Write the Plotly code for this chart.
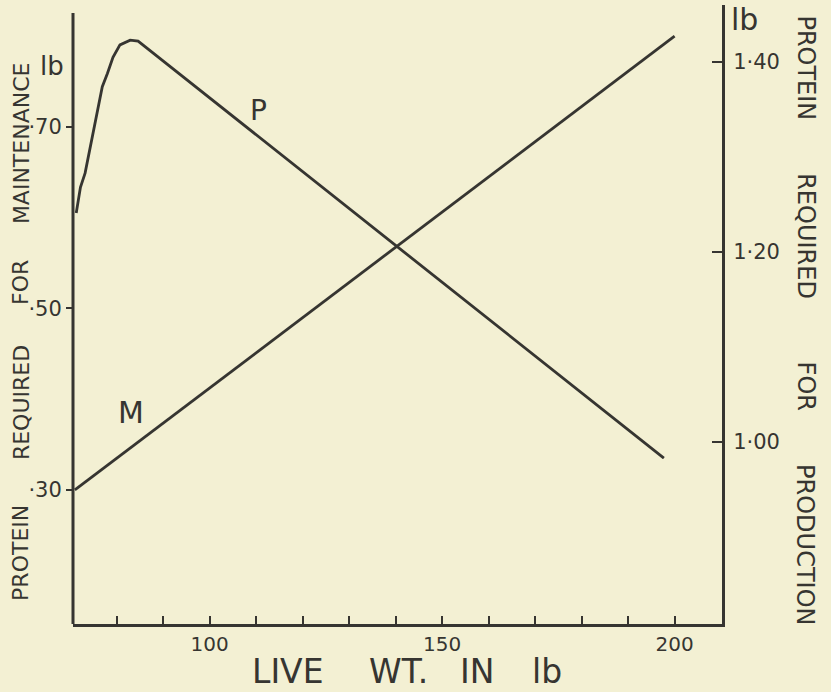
import plotly.graph_objects as go

# Live weight (lb) and protein requirement series
m_weight = [71, 200]
m_protein = [0.30, 0.80]          # maintenance, left axis (lb)

p_weight = [71.3, 72.2, 73.2, 74.3, 75.4, 76.9, 78.0, 79.2, 80.7, 82.9, 84.6, 197.7]
p_protein = [1.241, 1.268, 1.283, 1.311, 1.336, 1.374, 1.388, 1.405, 1.418, 1.423, 1.422, 0.983]  # production, right axis (lb)

x_tickvals = [80, 90, 100, 110, 120, 130, 140, 150, 160, 170, 180, 190, 200]
x_ticktext = ["", "", "100", "", "", "", "", "150", "", "", "", "", "200"]
left_tickvals = [0.30, 0.50, 0.70]
left_ticktext = ["·30", "·50", "·70"]
right_tickvals = [1.00, 1.20, 1.40]
right_ticktext = ["1·00", "1·20", "1·40"]

INK = "#363531"
PAPER = "#f3f0d3"
FONT = "DejaVu Sans"

fig = go.Figure()
fig.add_trace(go.Scatter(x=m_weight, y=m_protein, mode="lines",
                         line=dict(color=INK, width=2.8), yaxis="y", hoverinfo="skip"))
fig.add_trace(go.Scatter(x=p_weight, y=p_protein, mode="lines",
                         line=dict(color=INK, width=2.8), yaxis="y2", hoverinfo="skip"))

ann = []
def label(text, x, y, size, angle=0, xref="paper", yref="paper"):
    ann.append(dict(text=text, x=x, y=y, xref=xref, yref=yref, showarrow=False,
                    textangle=angle, xanchor="center", yanchor="middle",
                    font=dict(family=FONT, size=size, color=INK)))

# curve labels
label("P", 110.6, 1.349, 28, xref="x", yref="y2")
label("M", 83.1, 0.385, 30, xref="x", yref="y")

# unit marks above the axes
label("lb", -0.032, 0.901, 26)
label("lb", 1.034, 0.977, 30)

# left axis title, word by word
for w, yy in [("PROTEIN", 0.115), ("REQUIRED", 0.357), ("FOR", 0.551), ("MAINTENANCE", 0.777)]:
    label(w, -0.080, yy, 22, angle=-90)
# right axis title
for w, yy in [("PROTEIN", 0.898), ("REQUIRED", 0.627), ("FOR", 0.384), ("PRODUCTION", 0.128)]:
    label(w, 1.129, yy, 24, angle=90)
# bottom axis title
for w, xx in [("LIVE", 0.331), ("WT.", 0.501), ("IN", 0.622), ("lb", 0.730)]:
    label(w, xx, -0.0775, 33)

fig.update_layout(
    width=831, height=692,
    margin=dict(l=73, r=109, t=5, b=68),
    paper_bgcolor=PAPER, plot_bgcolor=PAPER,
    showlegend=False,
    annotations=ann,
    xaxis=dict(range=[70.6, 210.2], showgrid=False, zeroline=False,
               showline=True, linecolor=INK, linewidth=3,
               tickvals=x_tickvals, ticktext=x_ticktext,
               ticks="inside", ticklen=8, tickwidth=2, tickcolor=INK,
               ticklabelstandoff=0,
               tickfont=dict(family=FONT, size=20, color=INK)),
    yaxis=dict(range=[0.1523, 0.8344], showgrid=False, zeroline=False,
               showline=False,
               tickvals=left_tickvals, ticktext=left_ticktext,
               ticks="outside", ticklen=6, tickwidth=2, tickcolor=INK,
               tickfont=dict(family=FONT, size=21, color=INK)),
    yaxis2=dict(range=[0.8084, 1.46], overlaying="y", side="right",
                showgrid=False, zeroline=False,
                showline=True, linecolor=INK, linewidth=3,
                tickvals=right_tickvals, ticktext=right_ticktext,
                ticks="inside", ticklen=10, tickwidth=2, tickcolor=INK,
                ticklabelstandoff=4,
                tickfont=dict(family=FONT, size=21, color=INK)),
    shapes=[dict(type="line", xref="paper", yref="paper", x0=0, x1=0, y0=0, y1=0.987,
                 line=dict(color=INK, width=3))],
)

fig.write_html("out.html")
